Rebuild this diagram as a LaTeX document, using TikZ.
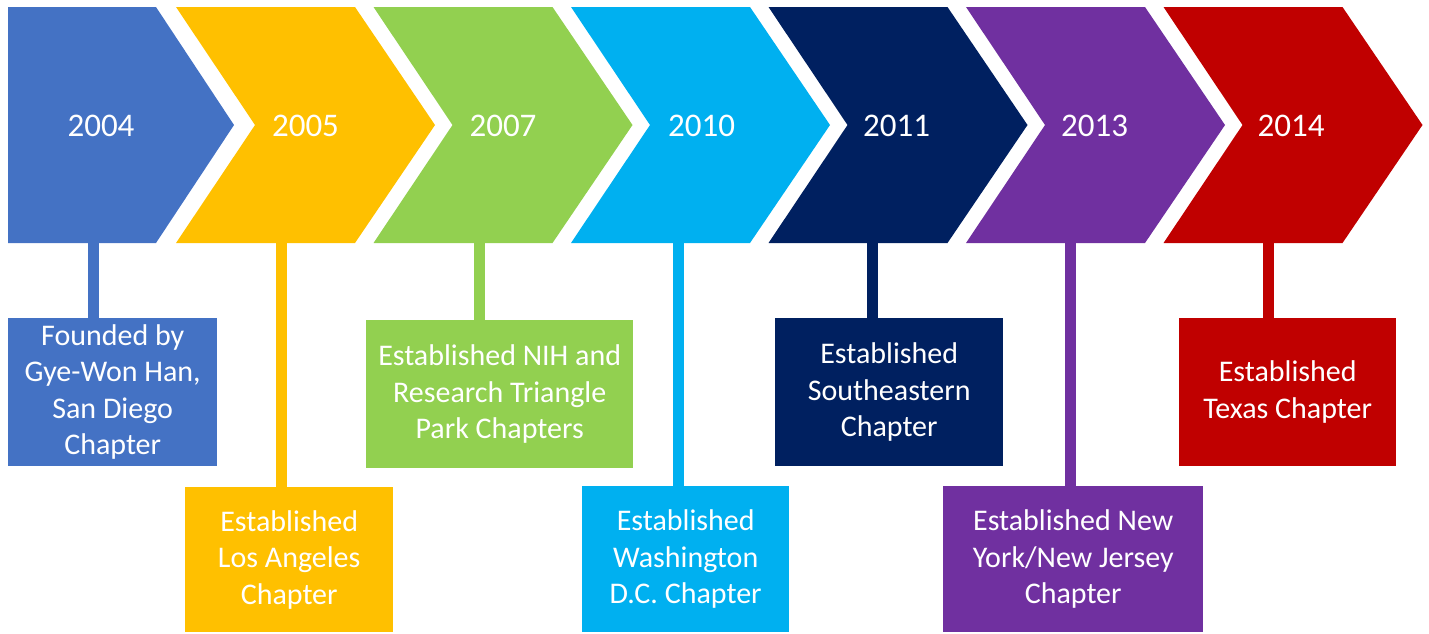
\documentclass[tikz,border=0pt]{standalone}
\usepackage{fontspec}
\setmainfont{Carlito}
\definecolor{cblue}{HTML}{4472C4}
\definecolor{cyellow}{HTML}{FFC000}
\definecolor{cgreen}{HTML}{92D050}
\definecolor{ccyan}{HTML}{00B0F0}
\definecolor{cnavy}{HTML}{002060}
\definecolor{cpurple}{HTML}{7030A0}
\definecolor{cred}{HTML}{C00000}
\tikzset{
  chev/.style={fill=#1, draw=none},
  year/.style={text=white, inner sep=0pt, font=\fontsize{33}{40}\selectfont},
  info/.style={fill=#1, text=white, align=center, inner sep=0pt, anchor=north west, font=\fontsize{30}{36.5}\selectfont},
  stem/.style={draw=#1, line width=11pt},
}
\begin{document}
\begin{tikzpicture}[x=1pt,y=-1pt]
\useasboundingbox (0,0) rectangle (1429,633);
% chevrons
\fill[chev=cblue] (8,7) -- (156,7) -- (234,125) -- (156,243) -- (8,243) -- cycle;
\foreach \L/\c in {176/cyellow, 373.5/cgreen, 571/ccyan, 768.5/cnavy, 966/cpurple, 1163.5/cred}{
  \fill[chev=\c] (\L,7) -- ({\L+179},7) -- ({\L+259},125) -- ({\L+179},243) -- (\L,243) -- ({\L+79},125) -- cycle;
}
% years
\node[year] (y1) at (101,126) {2004};
\node[year] (y2) at (305.5,126) {2005};
\node[year] (y3) at (503,126) {2007};
\node[year] (y4) at (701.5,126) {2010};
\node[year] (y5) at (896.5,126) {2011};
\node[year] (y6) at (1094.5,126) {2013};
\node[year] (y7) at (1291,126) {2014};
% boxes
\node[info=cblue, minimum width=209pt, minimum height=148pt] (b1) at (8,318) {Founded by\\Gye-Won Han,\\San Diego\\Chapter};
\node[info=cyellow, minimum width=208pt, minimum height=145pt] (b2) at (185,487) {Established\\Los Angeles\\Chapter};
\node[info=cgreen, minimum width=267pt, minimum height=148pt] (b3) at (366,320) {Established NIH and\\Research Triangle\\Park Chapters};
\node[info=ccyan, minimum width=207pt, minimum height=146pt] (b4) at (582,486) {Established\\Washington\\D.C. Chapter};
\node[info=cnavy, minimum width=228pt, minimum height=148pt] (b5) at (775,318) {Established\\Southeastern\\Chapter};
\node[info=cpurple, minimum width=260pt, minimum height=146pt] (b6) at (943,486) {Established New\\York/New Jersey\\Chapter};
\node[info=cred, minimum width=217pt, minimum height=148pt] (b7) at (1179,318) {Established\\Texas Chapter};
% stems
\coordinate (s1) at (93.5,240);
\coordinate (s2) at (281.5,240);
\coordinate (s3) at (479.5,240);
\coordinate (s4) at (678,240);
\coordinate (s5) at (872.5,240);
\coordinate (s6) at (1070.5,240);
\coordinate (s7) at (1268,240);
\draw[stem=cblue] (s1) -- (s1 |- b1.north);
\draw[stem=cyellow] (s2) -- (s2 |- b2.north);
\draw[stem=cgreen] (s3) -- (s3 |- b3.north);
\draw[stem=ccyan] (s4) -- (s4 |- b4.north);
\draw[stem=cnavy] (s5) -- (s5 |- b5.north);
\draw[stem=cpurple] (s6) -- (s6 |- b6.north);
\draw[stem=cred] (s7) -- (s7 |- b7.north);
\end{tikzpicture}
\end{document}
